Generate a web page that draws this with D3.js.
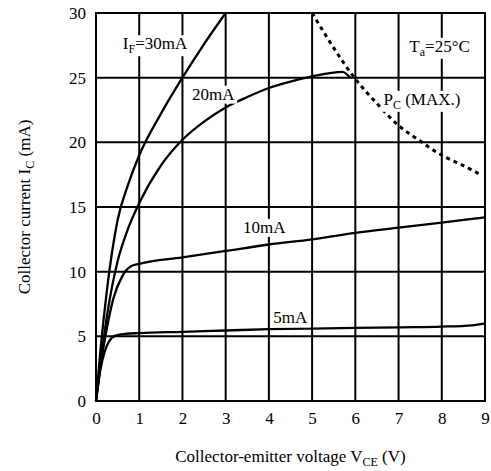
<!DOCTYPE html>
<html>
<head>
<meta charset="utf-8">
<script src="https://cdn.jsdelivr.net/npm/d3@7"></script>
<style>
  body { margin: 0; background: #fff; }
  text { font-family: "Liberation Serif", "Times New Roman", serif; fill: #000; }
</style>
</head>
<body>
<div id="chart"></div>
<script>
// Chart data (V in volts, I in mA)
const x_ticks = [0, 1, 2, 3, 4, 5, 6, 7, 8, 9];
const y_ticks = [0, 5, 10, 15, 20, 25, 30];

const curve_30mA = [[0,0],[0.1,3.8],[0.25,8.5],[0.5,14],[0.75,16.8],[1,19],[1.5,22.2],[2,25],[2.5,27.6],[3,30]];
const curve_20mA = [[0,0],[0.1,2.8],[0.25,6.5],[0.5,10.8],[0.75,13.4],[1,15.3],[1.5,18.2],[2,20.2],[2.5,21.6],[3,22.7],[3.5,23.5],[4,24.2],[4.5,24.7],[5,25.1],[5.7,25.45],[5.88,25.0]];
const curve_10mA = [[0,0],[0.1,2.6],[0.25,5.6],[0.4,7.9],[0.6,9.6],[0.8,10.4],[1,10.6],[2,11.1],[3,11.6],[4,12.1],[5,12.5],[6,13],[7,13.4],[8,13.8],[9,14.2]];
const curve_5mA = [[0,0],[0.1,2.4],[0.2,3.8],[0.3,4.6],[0.45,5.05],[0.7,5.2],[1,5.25],[2,5.35],[3,5.45],[4,5.55],[5,5.6],[6,5.65],[7,5.7],[8,5.75],[8.7,5.85],[9,6.0]];
const curve_pc_max = [[5,30],[5.5,27.3],[6,24.9],[6.5,23],[7,21.3],[7.5,20.1],[8,19],[8.5,18.2],[8.9,17.5]];

// Curve labels: [V, I] position of the text baseline start
const labels = [
  {parts: [["I",""],["F","sub"],["=30mA",""]], at: [0.62, 27.2]},
  {parts: [["20mA",""]], at: [2.22, 23.3]},
  {parts: [["10mA",""]], at: [3.4, 13]},
  {parts: [["5mA",""]], at: [4.1, 6.0]},
  {parts: [["T",""],["a","sub"],["=25°C",""]], at: [7.25, 27.0]},
  {parts: [["P",""],["C","sub"],[" (MAX.)",""]], at: [6.65, 22.9]},
];

const C = {
  width: 491,
  height: 471,
  line_w: 2,
  font: 17,
  sub_font: 12,
};

const svg = d3.select('#chart').append('svg')
  .attr('width', C.width)
  .attr('height', C.height);

const X = d3.scaleLinear().domain([0, 9]).range([96, 485]);
const Y = d3.scaleLinear().domain([0, 30]).range([401, 13]);

// Grid lines (frame included)
const grid = svg.append('g');
grid.selectAll('line.v')
  .data(x_ticks)
  .join('line')
  .attr('x1', d => X(d)).attr('x2', d => X(d))
  .attr('y1', Y(0)).attr('y2', Y(30))
  .attr('stroke', '#000').attr('stroke-width', C.line_w);
grid.selectAll('line.h')
  .data(y_ticks)
  .join('line')
  .attr('x1', X(0) - 1).attr('x2', X(9) + 1)
  .attr('y1', d => Y(d)).attr('y2', d => Y(d))
  .attr('stroke', '#000').attr('stroke-width', C.line_w);

// Tick labels through the library axes (no tick marks)
const x_axis = svg.append('g')
  .attr('transform', `translate(0,${Y(0)})`)
  .call(d3.axisBottom(X).tickValues(x_ticks).tickSize(0).tickPadding(11).tickFormat(d3.format('d')));
const y_axis = svg.append('g')
  .attr('transform', `translate(${X(0)},0)`)
  .call(d3.axisLeft(Y).tickValues(y_ticks).tickSize(0).tickPadding(10).tickFormat(d3.format('d')));
[x_axis, y_axis].forEach(a => {
  a.select('.domain').remove();
  a.selectAll('text').style('font-family', '"Liberation Serif", serif').style('font-size', C.font + 'px').attr('fill', '#000');
});

// Curves
const line = d3.line().x(d => X(d[0])).y(d => Y(d[1])).curve(d3.curveMonotoneX);

[curve_30mA, curve_20mA, curve_10mA, curve_5mA].forEach(c => {
  svg.append('path')
    .datum(c)
    .attr('d', line)
    .attr('fill', 'none')
    .attr('stroke', '#000')
    .attr('stroke-width', C.line_w + 0.3);
});

svg.append('path')
  .datum(curve_pc_max)
  .attr('d', d3.line().x(d => X(d[0])).y(d => Y(d[1])).curve(d3.curveCatmullRom))
  .attr('fill', 'none')
  .attr('stroke', '#000')
  .attr('stroke-width', 3)
  .attr('stroke-dasharray', '4,4');

// Label layer: white boxes cut the grid lines under the text
const label_g = svg.append('g');
const label_texts = label_g.selectAll('text')
  .data(labels)
  .join('text')
  .attr('x', d => X(d.at[0]))
  .attr('y', d => Y(d.at[1]))
  .style('font-size', C.font + 'px');

label_texts.each(function(d){
  const t = d3.select(this);
  d.parts.forEach(([s, kind], i) => {
    const span = t.append('tspan').text(s);
    if(kind === 'sub'){
      span.style('font-size', C.sub_font + 'px').attr('dy', 4);
    } else if(i > 0 && d.parts[i-1][1] === 'sub'){
      span.attr('dy', -4);
    }
  });
});

label_texts.each(function(){
  const b = this.getBBox();
  label_g.insert('rect', ':first-child')
    .attr('x', b.x - 2).attr('y', b.y + 1)
    .attr('width', b.width + 4).attr('height', b.height - 1)
    .attr('fill', '#fff');
});

// Axis titles
const x_title = svg.append('text')
  .attr('x', (X(0) + X(9)) / 2)
  .attr('y', 462)
  .attr('text-anchor', 'middle')
  .style('font-size', C.font + 'px');
x_title.append('tspan').text('Collector-emitter voltage V');
x_title.append('tspan').text('CE').style('font-size', C.sub_font + 'px').attr('dy', 4);
x_title.append('tspan').text(' (V)').attr('dy', -4);

const y_title = svg.append('text')
  .attr('transform', `translate(30,${(Y(0) + Y(30)) / 2}) rotate(-90)`)
  .attr('text-anchor', 'middle')
  .style('font-size', C.font + 'px');
y_title.append('tspan').text('Collector current I');
y_title.append('tspan').text('C').style('font-size', C.sub_font + 'px').attr('dy', 4);
y_title.append('tspan').text(' (mA)').attr('dy', -4);
</script>
</body>
</html>
